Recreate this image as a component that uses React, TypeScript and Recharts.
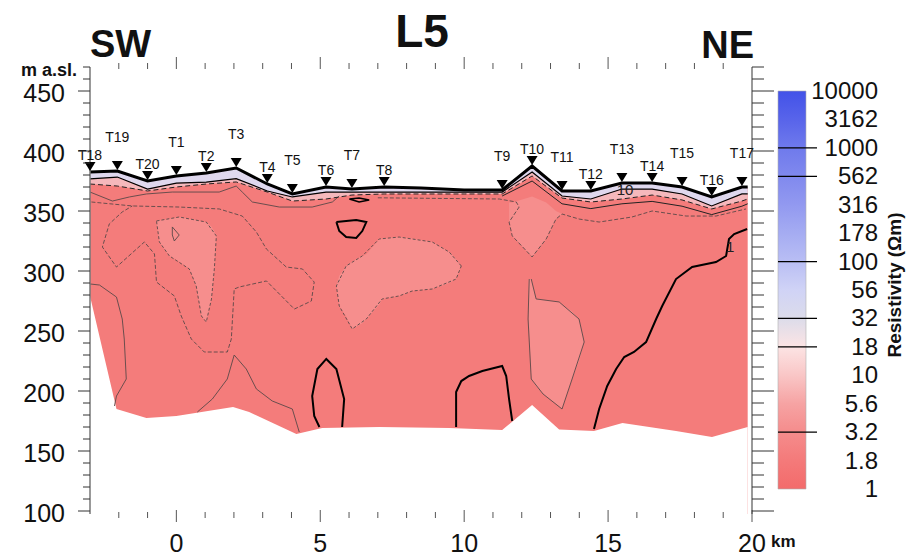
import React from 'react';
import { ComposedChart, Area, Line, Scatter, XAxis, YAxis, BarChart, Bar } from 'recharts';

const FONT = '"Liberation Sans", Arial, Helvetica, sans-serif';

// stations along the profile, SW -> NE
const STATIONS = ['T18', 'T19', 'T20', 'T1', 'T2', 'T3', 'T4', 'T5', 'T6', 'T7', 'T8', 'T9', 'T10', 'T11', 'T12', 'T13', 'T14', 'T15', 'T16', 'T17'];
const STATION_KM = [-3.0, -2.05, -1.0, 0, 1.04, 2.08, 3.16, 4.03, 5.2, 6.1, 7.22, 11.32, 12.36, 13.4, 14.4, 15.48, 16.53, 17.57, 18.6, 19.65];
const STATION_EL = [382.5, 383.3, 375, 379.2, 381.7, 385.8, 372.5, 364.2, 370, 368.3, 370, 367.5, 387.5, 366.7, 366.7, 373.3, 373.3, 370, 361.7, 370];

// top of the section and the two shallow contours below it
const SURF_KM = [-3.0, -2.05, -1.0, 0, 1.04, 2.08, 3.16, 4.03, 5.2, 6.1, 7.22, 8.5, 10.0, 11.32, 12.36, 13.4, 14.4, 15.48, 16.53, 17.57, 18.6, 19.65, 19.85];
const SURF_EL = [382.5, 383.3, 375, 379.2, 381.7, 385.8, 372.5, 364.2, 370, 368.3, 370, 369.2, 367.5, 367.5, 387.5, 366.7, 366.7, 373.3, 373.3, 370, 361.7, 370, 370];
const N1_EL = [376.7, 378.3, 368.3, 373.3, 374, 377, 366.7, 361.7, 365.8, 365.8, 365.8, 365.8, 365.8, 365.8, 382.5, 362.5, 360, 368.3, 368.3, 364.2, 354.2, 364.2, 364.2];
const N2_EL = [372.5, 370.8, 366.7, 370, 372.5, 374.2, 365.8, 358.3, 360, 363.3, 364.2, 364.2, 364.2, 364.2, 379.2, 360.8, 357.5, 360, 363.3, 359.2, 351.7, 358.3, 360];

// bottom of the model
const BASE_KM = [-3.0, -2.08, -1.04, 0, 1.97, 2.53, 4.17, 5.07, 7.05, 9.48, 11.32, 12.36, 13.3, 14.51, 15.5, 17.36, 18.61, 19.85];
const BASE_EL = [279.2, 185, 177.5, 179.2, 186.7, 182.5, 164.2, 169.2, 170, 169.2, 167.5, 188.3, 168, 166.7, 173.3, 166.7, 161.7, 170];

// lighter (higher resistivity) pockets: [km, lower el, upper el]
const LIGHT_T1 = [[-0.69, 340, 341.7], [-0.59, 324.2, 342], [-0.24, 312.5, 343.5], [0.1, 308, 345], [0.45, 301.7, 343.5], [0.69, 287.5, 342.5], [0.87, 262.5, 341.5], [1.04, 257.5, 340.8], [1.22, 276.7, 337], [1.32, 301.7, 333], [1.39, 329.2, 329.2]];
const LIGHT_MID = [[5.56, 287.5, 287.5], [5.66, 270.8, 296], [5.9, 262, 304.2], [6.11, 251.7, 308], [6.46, 256.5, 312.5], [6.6, 260, 314], [7.05, 272, 326.7], [7.15, 276.7, 327], [7.74, 279.2, 328.3], [8.19, 283.3, 327], [8.89, 285, 324.2], [9.48, 290, 315.8], [9.72, 293.3, 310], [9.9, 304.2, 304.2]];
const LIGHT_T10 = [[11.56, 340.8, 357], [11.67, 329.2, 357], [12.36, 311.7, 362], [12.85, 326.7, 357], [13.19, 343.3, 350], [13.4, 347.5, 347.5]];
const LIGHT_T11 = [[12.24, 260, 293.3], [12.33, 210, 293.3], [12.5, 204, 276.7], [12.74, 197.5, 276], [13.3, 187, 274.2], [13.4, 185, 272], [13.75, 210, 266], [13.99, 225, 260], [14.17, 240.8, 240.8]];

// contours [km, m a.sl.]
const C_SHALLOW = [[-3, 365.8], [-2.22, 358.3], [-1.63, 361.7], [-1.04, 364.2], [-0.14, 365.8], [1.49, 365.8], [2.08, 370.8], [2.29, 365.8], [2.64, 357.5], [3.58, 353.3], [4.72, 353.3], [5.42, 357.5], [5.66, 362.5]];
const C_NE = [[11.32, 362.5], [12.36, 375], [13.4, 356], [14.4, 352], [15.48, 356], [16.53, 358], [17.57, 354], [18.6, 347], [19.65, 354], [19.85, 356]];
const C_BIG = [[-2.95, 357.5], [-1.53, 354.2], [0.1, 353.3], [1.49, 351.7], [2.29, 345.8], [2.78, 332.5], [3.13, 318.3], [3.82, 303.3], [4.38, 301.7], [4.79, 290.8], [4.69, 275], [4.1, 268.3], [3.13, 291.7], [2.19, 286.7], [2.01, 285], [1.91, 243.3], [1.77, 232.5], [0.97, 232.5], [0.52, 243.3], [0.17, 262.5], [-0.07, 279.2], [-0.69, 290.8], [-0.76, 314.2], [-1.11, 324.2], [-2.08, 303.3], [-2.57, 320], [-2.33, 339.2], [-1.88, 349.2], [-1.53, 354.2]];
const C_T1 = [[-0.69, 341.7], [0.1, 345], [1.04, 340.8], [1.39, 329.2], [1.32, 301.7], [1.22, 276.7], [1.04, 257.5], [0.87, 262.5], [0.69, 287.5], [0.45, 301.7], [-0.24, 312.5], [-0.59, 324.2], [-0.69, 341.7]];
const C_TINY = [[-0.14, 336.7], [0.1, 330], [-0.07, 325], [-0.14, 330], [-0.14, 336.7]];
const C_LEFT = [[-3, 289.2], [-2.67, 288.3], [-2.08, 278.3], [-1.88, 260], [-1.81, 243.3], [-1.74, 210], [-2.08, 195.8], [-2.15, 187.5]];
const C_T3 = [[0.73, 182.5], [1.25, 193.3], [1.77, 210], [2.01, 230], [2.43, 218.3], [2.78, 201.7], [3.33, 191.7], [4.03, 185], [4.27, 165.8]];
const C_MID = [[9.9, 304.2], [9.48, 315.8], [8.89, 324.2], [7.74, 328.3], [7.05, 326.7], [6.46, 312.5], [5.9, 304.2], [5.56, 287.5], [5.66, 270.8], [6.11, 251.7], [6.6, 260], [7.15, 276.7], [7.74, 279.2], [8.19, 283.3], [8.89, 285], [9.72, 293.3], [9.9, 304.2]];
const C_T10 = [[7.0, 361], [11.22, 360], [11.81, 357.5], [11.91, 353.3], [11.56, 340.8], [11.67, 329.2], [12.36, 311.7], [12.85, 326.7], [13.19, 343.3], [13.4, 347.5], [13.99, 343.3], [14.69, 340.8], [15.83, 345], [16.53, 350], [17.71, 345.8], [18.75, 345.8], [19.79, 351.7]];
const C_T11 = [[12.33, 293.3], [12.5, 276.7], [13.3, 274.2], [13.99, 260], [14.17, 240.8], [13.75, 210], [13.4, 185], [12.74, 197.5], [12.33, 210], [12.22, 260], [12.26, 293.3]];
const K_T6 = [[4.97, 170], [4.79, 179.2], [4.72, 195.8], [4.9, 218.3], [5.21, 226.7], [5.56, 218.3], [5.83, 193.3], [5.76, 170]];
const K_T9 = [[9.72, 170], [9.72, 199.2], [9.9, 208.3], [10.17, 212.5], [10.63, 216.7], [11.32, 220.8], [11.46, 212.5], [11.56, 193.3], [11.67, 175]];
const K_NE = [[14.51, 168.3], [14.69, 185], [14.97, 204.2], [15.28, 218.3], [15.56, 228.3], [15.9, 232.5], [16.32, 240.8], [16.67, 260], [16.88, 270.8], [17.36, 293.3], [17.92, 303.3], [18.75, 307.5], [19.1, 312.5], [19.2, 326.7], [19.38, 330.8], [19.83, 335]];
const K_T7 = [[5.56, 340.8], [5.9, 341.7], [6.25, 342.5], [6.6, 340.8], [6.46, 333.3], [6.25, 327.5], [5.9, 328.3], [5.66, 333.3], [5.56, 340.8]];
const K_T7S = [[6.01, 360], [6.35, 357.5], [6.7, 359.2], [6.35, 360.8], [6.01, 360]];

const CONTOUR_TEXT = ['10', '1'];
const CONTOUR_TEXT_KM = [15.59, 19.24];
const CONTOUR_TEXT_EL = [367.5, 320];

const KM_TICKS = [-2, -1, 0, 1, 2, 3, 4, 5, 6, 7, 8, 9, 10, 11, 12, 13, 14, 15, 16, 17, 18, 19, 20];
const KM_LABELS = [0, 5, 10, 15, 20];
const EL_TICKS = [100, 110, 120, 130, 140, 150, 160, 170, 180, 190, 200, 210, 220, 230, 240, 250, 260, 270, 280, 290, 300, 310, 320, 330, 340, 350, 360, 370, 380, 390, 400, 410, 420, 430, 440, 450, 460, 470];
const EL_LABELS = [100, 150, 200, 250, 300, 350, 400, 450];

const CB_LABELS = ['1', '1.8', '3.2', '5.6', '10', '18', '32', '56', '100', '178', '316', '562', '1000', '3162', '10000'];
const CB_CONTOURS = ['3.2', '18', '32', '100', '562', '1000'];
const CB_COLORS = ['#f36b6b', '#f47a7a', '#f58c8c', '#f6a3a3', '#f9c6c6', '#fce4e4', '#dcdcea', '#d0d3f6', '#b9bef4', '#a5acf2', '#9299f0', '#8089ee', '#6f7aec', '#5864ea', '#4252e8'];

const Y_DOMAIN: [number, number] = [97.5, 470];
const X_DOMAIN: [number, number] = [-3, 20];

const pts = (arr: number[][]) => arr.map(([x, el]) => ({ x, el }));
const band = (arr: number[][]) => arr.map(([x, lo, hi]) => ({ x, lo, hi }));

const surfRows = SURF_KM.map((x, i) => ({ x, top: SURF_EL[i], n1: N1_EL[i], n2: N2_EL[i] }));
const baseRows = BASE_KM.map((x, i) => ({ x, el: BASE_EL[i] }));
const stationRows = STATIONS.map((name, i) => ({ x: STATION_KM[i], el: STATION_EL[i], name, high: i % 2 === 1 }));
const textRows = CONTOUR_TEXT.map((t, i) => ({ x: CONTOUR_TEXT_KM[i], el: CONTOUR_TEXT_EL[i], t }));

const StationMark = (p: any) => {
  const { cx, cy, payload } = p;
  return (
    <g>
      <polygon points={`${cx - 5.5},${cy - 10} ${cx + 5.5},${cy - 10} ${cx},${cy - 1}`} fill="#000" />
      <text x={cx} y={cy - (payload.high ? 29 : 12)} textAnchor="middle" fontSize={14} fontFamily={FONT} fill="#111">
        {payload.name}
      </text>
    </g>
  );
};

const ContourText = (p: any) => (
  <text x={p.cx} y={p.cy + 5} textAnchor="middle" fontSize={15} fontFamily={FONT} fill="#222">
    {p.payload.t}
  </text>
);

const LeftTick = (p: any) => {
  const v = p.payload.value;
  const major = EL_LABELS.includes(v);
  return (
    <g>
      <line x1={major ? 78 : 83} x2={90} y1={p.y} y2={p.y} stroke="#333" />
      {major && (
        <text x={65} y={p.y + 11} textAnchor="end" fontSize={25} fontFamily={FONT} fill="#111">
          {v}
        </text>
      )}
    </g>
  );
};

const RightTick = (p: any) => {
  const major = EL_LABELS.includes(p.payload.value);
  return <line x1={752} x2={major ? 774 : 764} y1={p.y} y2={p.y} stroke="#333" />;
};

const TopTick = (p: any) => {
  const v = p.payload.value;
  if (v > 19) return <g />;
  const major = KM_LABELS.includes(v);
  return <line x1={p.x} x2={p.x} y1={69} y2={major ? 57 : 63} stroke="#555" />;
};

const BottomTick = (p: any) => {
  const v = p.payload.value;
  const major = KM_LABELS.includes(v);
  return (
    <g>
      <line x1={p.x} x2={p.x} y1={major ? 510 : 512} y2={major ? 522 : 518} stroke="#555" />
      {major && (
        <text x={p.x} y={552} textAnchor="middle" fontSize={25} fontFamily={FONT} fill="#111">
          {v}
        </text>
      )}
    </g>
  );
};

const CbTick = (p: any) => {
  const label = CB_LABELS[p.payload.value];
  const contour = CB_CONTOURS.includes(label);
  return (
    <g>
      {contour && <line x1={778} x2={817} y1={p.y} y2={p.y} stroke="#000" strokeWidth={1.2} />}
      <text x={878} y={p.y + 8} textAnchor="end" fontSize={24} fontFamily={FONT} fill="#111">
        {label}
      </text>
    </g>
  );
};

const thin = { stroke: '#5a4848', strokeWidth: 0.9 };
const contourLine = (key: string, arr: number[][], style: any) => (
  <Line
    key={key}
    xAxisId="b"
    yAxisId="l"
    data={pts(arr)}
    dataKey="el"
    type="linear"
    dot={false}
    activeDot={false}
    isAnimationActive={false}
    {...style}
  />
);
const lightPocket = (key: string, arr: number[][]) => (
  <Area
    key={key}
    xAxisId="b"
    yAxisId="l"
    data={band(arr)}
    dataKey={(d: any) => [d.lo, d.hi]}
    type="linear"
    fill="#f68e8d"
    fillOpacity={1}
    stroke="none"
    isAnimationActive={false}
  />
);

export default function App() {
  const abs: React.CSSProperties = { position: 'absolute', left: 0, top: 0 };
  return (
    <div style={{ position: 'absolute', left: 0, top: 0, width: 911, height: 556, background: '#fff', fontFamily: FONT }}>
      <div style={abs}>
        <ComposedChart width={911} height={556} margin={{ top: 0, right: 0, bottom: 0, left: 0 }}>
          <Area xAxisId="b" yAxisId="l" data={surfRows} dataKey="top" type="linear" baseValue={Y_DOMAIN[0]} fill="#f47c7b" fillOpacity={1} stroke="none" isAnimationActive={false} />
          {lightPocket('lt1', LIGHT_T1)}
          {lightPocket('lmid', LIGHT_MID)}
          {lightPocket('lt10', LIGHT_T10)}
          {lightPocket('lt11', LIGHT_T11)}
          <Area xAxisId="b" yAxisId="l" data={surfRows} dataKey={(d: any) => [d.n1, d.top]} type="linear" fill="#dfd8ee" fillOpacity={1} stroke="none" isAnimationActive={false} />
          <Area xAxisId="b" yAxisId="l" data={surfRows} dataKey={(d: any) => [d.n2, d.n1]} type="linear" fill="#f5b8bc" fillOpacity={1} stroke="none" isAnimationActive={false} />
          <Area xAxisId="b" yAxisId="l" data={baseRows} dataKey="el" type="linear" baseValue={Y_DOMAIN[0]} fill="#ffffff" fillOpacity={1} stroke="none" isAnimationActive={false} />

          {contourLine('ca', C_SHALLOW, thin)}
          {contourLine('cne', C_NE, { stroke: '#222', strokeWidth: 1 })}
          {contourLine('cbig', C_BIG, { ...thin, strokeDasharray: '4 2' })}
          {contourLine('ct1', C_T1, { ...thin, strokeDasharray: '3 2' })}
          {contourLine('ctiny', C_TINY, thin)}
          {contourLine('cleft', C_LEFT, thin)}
          {contourLine('ct3', C_T3, thin)}
          {contourLine('cmid', C_MID, { ...thin, strokeDasharray: '3 2' })}
          {contourLine('ct10', C_T10, { ...thin, strokeDasharray: '4 2' })}
          {contourLine('ct11', C_T11, thin)}
          {contourLine('k6', K_T6, { stroke: '#000', strokeWidth: 2 })}
          {contourLine('k9', K_T9, { stroke: '#000', strokeWidth: 2 })}
          {contourLine('kne', K_NE, { stroke: '#000', strokeWidth: 2 })}
          {contourLine('k7', K_T7, { stroke: '#000', strokeWidth: 2 })}
          {contourLine('k7s', K_T7S, { stroke: '#000', strokeWidth: 1.5 })}

          <Line xAxisId="b" yAxisId="l" data={surfRows} dataKey="n2" type="linear" dot={false} stroke="#222" strokeWidth={1} strokeDasharray="5 3" isAnimationActive={false} />
          <Line xAxisId="b" yAxisId="l" data={surfRows} dataKey="n1" type="linear" dot={false} stroke="#000" strokeWidth={1.2} isAnimationActive={false} />
          <Line xAxisId="b" yAxisId="l" data={surfRows} dataKey="top" type="linear" dot={false} stroke="#000" strokeWidth={3} isAnimationActive={false} />

          <Scatter xAxisId="t" yAxisId="r" data={stationRows} dataKey="el" shape={StationMark} isAnimationActive={false} />
          <Scatter xAxisId="t" yAxisId="r" data={textRows} dataKey="el" shape={ContourText} isAnimationActive={false} />

          <XAxis xAxisId="b" type="number" dataKey="x" domain={X_DOMAIN} allowDataOverflow ticks={KM_TICKS} interval={0} orientation="bottom" height={42} axisLine={false} tickLine={false} tick={(p: any) => <BottomTick {...p} />} />
          <XAxis xAxisId="t" type="number" dataKey="x" domain={X_DOMAIN} ticks={KM_TICKS} interval={0} orientation="top" height={67} axisLine={false} tickLine={false} tick={(p: any) => <TopTick {...p} />} />
          <YAxis yAxisId="l" type="number" domain={Y_DOMAIN} allowDataOverflow ticks={EL_TICKS} interval={0} width={90} axisLine={{ stroke: '#777', strokeWidth: 1.5 }} tickLine={false} tick={(p: any) => <LeftTick {...p} />} />
          <YAxis yAxisId="r" type="number" orientation="right" domain={Y_DOMAIN} ticks={EL_TICKS} interval={0} width={159} axisLine={{ stroke: '#777', strokeWidth: 1.5 }} tickLine={false} tick={(p: any) => <RightTick {...p} />} />
        </ComposedChart>
      </div>

      <div style={abs}>
        <BarChart width={911} height={556} data={[{ name: 'cb', v: 14 }]} margin={{ top: 91, bottom: 67, left: 778, right: 33 }} barCategoryGap={0}>
          <defs>
            <linearGradient id="cbGrad" x1="0" y1="1" x2="0" y2="0">
              {CB_COLORS.map((c, i) => (
                <stop key={i} offset={`${(i / 14) * 100}%`} stopColor={c} />
              ))}
            </linearGradient>
          </defs>
          <XAxis dataKey="name" hide />
          <YAxis orientation="right" type="number" domain={[0, 14]} ticks={CB_LABELS.map((_, i) => i)} interval={0} width={72} axisLine={false} tickLine={false} tick={(p: any) => <CbTick {...p} />} />
          <Bar dataKey="v" fill="url(#cbGrad)" stroke="#b0b0b0" strokeWidth={0.6} isAnimationActive={false} />
        </BarChart>
      </div>

      <svg style={abs} width={911} height={556}>
        <text x={422} y={47} textAnchor="middle" fontSize={46} fontWeight="bold" fontFamily={FONT} fill="#111">L5</text>
        <text x={90} y={57} fontSize={38} fontWeight="bold" fontFamily={FONT} fill="#111">SW</text>
        <text x={754} y={58} textAnchor="end" fontSize={38} fontWeight="bold" fontFamily={FONT} fill="#111">NE</text>
        <text x={77} y={76} textAnchor="end" fontSize={18} fontWeight="bold" fontFamily={FONT} fill="#111">m a.sl.</text>
        <text x={771} y={547} fontSize={17} fontWeight="bold" fontFamily={FONT} fill="#111">km</text>
        <text x={0} y={0} transform="translate(901,285) rotate(-90)" textAnchor="middle" fontSize={19} fontWeight="bold" fontFamily={FONT} fill="#111">
          Resistivity (Ωm)
        </text>
      </svg>
    </div>
  );
}
